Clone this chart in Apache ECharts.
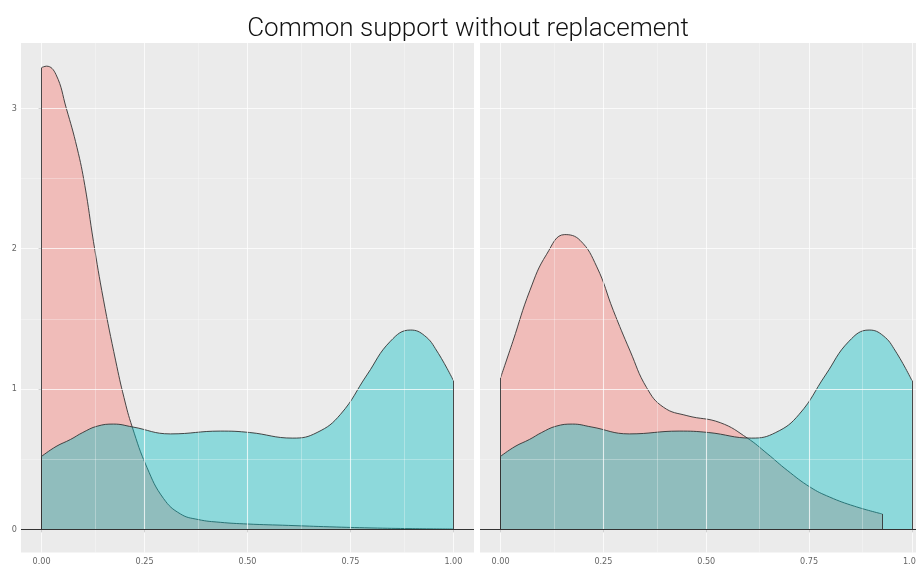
<!DOCTYPE html>
<html>
<head>
<meta charset="utf-8">
<script src="https://cdn.jsdelivr.net/npm/echarts@6/dist/echarts.min.js"></script>
<style>
  html, body { margin: 0; padding: 0; background: #fff; }
  #chart { width: 916px; height: 571px; }
</style>
</head>
<body>
<div id="chart"></div>
<script>
// tick labels
const xTicks = [0, 0.25, 0.5, 0.75, 1];
const xMinor = [0.125, 0.375, 0.625, 0.875];
const yTicks = [0, 1, 2, 3];
const yMinor = [0.5, 1.5, 2.5];

// left panel, red density (x, density)
const leftRedX = [0, 0.012, 0.035, 0.06, 0.086, 0.105, 0.126, 0.15, 0.18, 0.2, 0.22, 0.256, 0.296, 0.337, 0.38, 0.434, 0.5, 0.6, 0.7, 0.8, 0.9, 1.0];
const leftRedY = [3.29, 3.30, 3.24, 3.00, 2.72, 2.45, 2.05, 1.64, 1.20, 0.94, 0.73, 0.44, 0.22, 0.11, 0.07, 0.05, 0.038, 0.028, 0.018, 0.01, 0.005, 0.002];

// teal density (same in both panels)
const tealX = [0, 0.035, 0.07, 0.1, 0.135, 0.175, 0.22, 0.313, 0.434, 0.505, 0.61, 0.669, 0.726, 0.79, 0.847, 0.896, 0.93, 0.96, 1.0];
const tealY = [0.52, 0.59, 0.64, 0.69, 0.735, 0.75, 0.73, 0.68, 0.70, 0.69, 0.65, 0.69, 0.82, 1.10, 1.34, 1.42, 1.38, 1.27, 1.06];

// right panel, red density
const rightRedX = [0, 0.03, 0.071, 0.112, 0.156, 0.193, 0.234, 0.274, 0.315, 0.355, 0.396, 0.453, 0.534, 0.6, 0.648, 0.697, 0.753, 0.8, 0.86, 0.927];
const rightRedY = [1.08, 1.34, 1.70, 1.96, 2.10, 2.06, 1.87, 1.56, 1.27, 1.01, 0.87, 0.81, 0.76, 0.65, 0.54, 0.42, 0.30, 0.23, 0.165, 0.11];

const RED = 'rgba(248,118,109,0.4)';
const TEAL = 'rgba(0,191,196,0.4)';
const OUTLINE = '#333';

const pairs = (xs, ys) => xs.map((x, i) => [x, ys[i]]);

function gridSeries(idx) {
  const lines = [];
  xTicks.forEach(v => lines.push({ xAxis: v, lineStyle: { width: 1.1, opacity: 0.75 } }));
  xMinor.forEach(v => lines.push({ xAxis: v, lineStyle: { width: 0.6, opacity: 0.5 } }));
  yTicks.forEach(v => lines.push({ yAxis: v, lineStyle: { width: 1.1, opacity: 0.75 } }));
  yMinor.forEach(v => lines.push({ yAxis: v, lineStyle: { width: 0.6, opacity: 0.5 } }));
  return {
    type: 'line', xAxisIndex: idx, yAxisIndex: idx, z: 1,
    data: [[0, 0]], showSymbol: false, lineStyle: { opacity: 0 },
    silent: true,
    markLine: {
      silent: true, symbol: 'none', label: { show: false },
      lineStyle: { color: '#fff', type: 'solid' },
      data: lines
    }
  };
}

function densitySeries(idx, xs, ys, color, z) {
  const last = xs.length - 1;
  return {
    type: 'line', xAxisIndex: idx, yAxisIndex: idx, z: z,
    data: pairs(xs, ys), smooth: 0.45, showSymbol: false,
    lineStyle: { color: OUTLINE, width: 0.9 },
    areaStyle: { color: color, opacity: 1, origin: 0 },
    markLine: {
      silent: true, symbol: 'none', label: { show: false },
      lineStyle: { color: OUTLINE, type: 'solid', width: 0.9 },
      data: [
        [{ coord: [xs[0], 0] }, { coord: [xs[0], ys[0]] }],
        [{ coord: [xs[last], 0] }, { coord: [xs[last], ys[last]] }]
      ]
    }
  };
}

function baseSeries(idx) {
  return {
    type: 'line', xAxisIndex: idx, yAxisIndex: idx, z: 6,
    data: [[0, 0]], showSymbol: false, lineStyle: { opacity: 0 }, silent: true,
    markLine: {
      silent: true, symbol: 'none', label: { show: false },
      lineStyle: { color: OUTLINE, type: 'solid', width: 1 },
      data: [{ yAxis: 0 }]
    }
  };
}

const xAxisBase = {
  type: 'value', min: -0.05, max: 1.05,
  splitLine: { show: false },
  axisLine: { show: false },
  axisTick: { show: true, length: 3, customValues: xTicks, lineStyle: { color: '#444' } },
  axisLabel: {
    customValues: xTicks, margin: 5, color: '#666', fontSize: 9,
    fontFamily: 'Liberation Sans Narrow, DejaVu Sans Condensed, sans-serif',
    formatter: v => v.toFixed(2)
  }
};
const yAxisBase = {
  type: 'value', min: -0.165, max: 3.465,
  splitLine: { show: false },
  axisLine: { show: false },
  axisTick: { show: true, length: 3, customValues: yTicks, lineStyle: { color: '#444' } },
  axisLabel: {
    customValues: yTicks, margin: 4, color: '#666', fontSize: 9,
    fontFamily: 'Liberation Sans Narrow, DejaVu Sans Condensed, sans-serif'
  }
};

const chart = echarts.init(document.getElementById('chart'));
chart.setOption({
  animation: false,
  backgroundColor: '#fff',
  graphic: [{
    type: 'text', x: 468, y: 29,
    style: {
      text: 'Common support without replacement',
      fontFamily: 'Roboto, Liberation Sans, sans-serif', fontSize: 26, fontWeight: 300,
      fill: '#111', textAlign: 'center', textVerticalAlign: 'middle'
    }
  }],
  grid: [
    { left: 21, top: 43, width: 453, height: 509.5, show: true, backgroundColor: '#EBEBEB', borderWidth: 0, outerBoundsMode: 'none' },
    { left: 480, top: 43, width: 452.5, height: 509.5, show: true, backgroundColor: '#EBEBEB', borderWidth: 0, outerBoundsMode: 'none' }
  ],
  xAxis: [
    Object.assign({ gridIndex: 0 }, xAxisBase),
    Object.assign({ gridIndex: 1 }, xAxisBase)
  ],
  yAxis: [
    Object.assign({ gridIndex: 0 }, yAxisBase),
    Object.assign({ gridIndex: 1 }, yAxisBase, { axisLabel: { show: false }, axisTick: { show: false } })
  ],
  series: [
    gridSeries(0),
    gridSeries(1),
    densitySeries(0, leftRedX, leftRedY, RED, 3),
    densitySeries(0, tealX, tealY, TEAL, 4),
    densitySeries(1, rightRedX, rightRedY, RED, 3),
    densitySeries(1, tealX, tealY, TEAL, 4),
    baseSeries(0),
    baseSeries(1)
  ]
});
</script>
</body>
</html>
